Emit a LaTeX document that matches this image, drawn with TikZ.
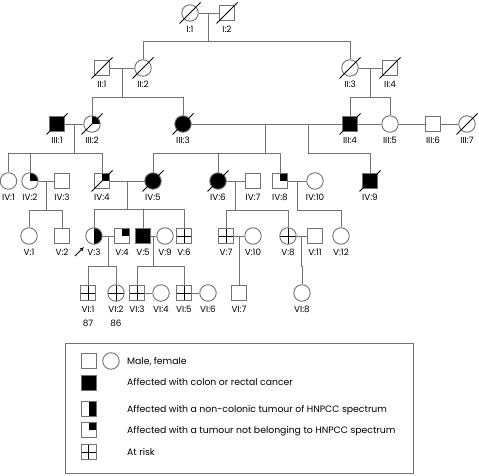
\documentclass[tikz,border=0pt]{standalone}
\usepackage{fontspec}
\setmainfont{Poppins}
\usetikzlibrary{arrows.meta,calc}
\definecolor{ln}{gray}{0.45}
\newcommand\pers[5]{\node[#2] (#1) at (#3,#4) {}; \node[lab] (#1l) at (#3,#4+19.6) {#5};}
\newcommand\kids[3]{\foreach \c in {#3} {\draw[rel] (#1) -- (#1 |- 0,#2) -| (\c.north);}}
\begin{document}
\begin{tikzpicture}[x=1pt,y=-1pt,
 every node/.style={inner sep=0pt},
 ind/.style={draw=ln, line width=0.9pt, inner sep=0pt},
 male/.style={ind, rectangle, minimum size=15pt},
 female/.style={ind, circle, minimum size=16.5pt},
 aff/.style={fill=black},
 halfaff/.style={path picture={\fill[black] (path picture bounding box.north) rectangle (path picture bounding box.south east);}},
 quart/.style={path picture={\fill[black] (path picture bounding box.center) rectangle (path picture bounding box.north east);}},
 risk/.style={path picture={\draw[black,line width=0.9pt] (path picture bounding box.north) -- (path picture bounding box.south) (path picture bounding box.west) -- (path picture bounding box.east);}},
 lab/.style={anchor=base, font=\fontsize{8.8}{9}\selectfont},
 legtext/.style={anchor=base west, font=\fontsize{9.3}{10}\selectfont},
 rel/.style={draw=ln, line width=0.9pt},
 dead/.style={draw=black, line width=0.8pt},
]
\useasboundingbox (0,0) rectangle (479,476);
% generation I
\pers{i1}{female}{190}{13}{I:1}
\pers{i2}{male}{227}{13}{I:2}
% generation II
\pers{ii1}{male}{102}{68}{II:1}
\pers{ii2}{female}{143}{68}{II:2}
\pers{ii3}{female}{350}{68}{II:3}
\pers{ii4}{male}{390}{68}{II:4}
% generation III
\pers{iii1}{male,aff}{57}{124}{III:1}
\pers{iii2}{female,quart}{92}{124}{III:2}
\pers{iii3}{female,aff}{183}{124}{III:3}
\pers{iii4}{male,aff}{350}{124}{III:4}
\pers{iii5}{female}{390}{124}{III:5}
\pers{iii6}{male}{433}{124}{III:6}
\pers{iii7}{female}{467}{124}{III:7}
% generation IV
\pers{iv1}{female}{8.5}{181}{IV:1}
\pers{iv2}{female,quart}{30}{181}{IV:2}
\pers{iv3}{male}{62}{181}{IV:3}
\pers{iv4}{male,quart}{102}{181}{IV:4}
\pers{iv5}{female,aff}{153}{181}{IV:5}
\pers{iv6}{female,aff}{218}{181}{IV:6}
\pers{iv7}{male}{253}{181}{IV:7}
\pers{iv8}{male,quart}{280}{181}{IV:8}
\pers{iv10}{female}{315}{181}{IV:10}
\pers{iv9}{male,aff}{370}{181}{IV:9}
% generation V
\pers{v1}{female}{29}{236}{V:1}
\pers{v2}{male}{62}{236}{V:2}
\pers{v3}{female,halfaff}{94}{236}{V:3}
\pers{v4}{male,quart}{122}{236}{V:4}
\pers{v5}{male,aff}{143}{236}{V:5}
\pers{v9}{female}{165}{236}{V:9}
\pers{v6}{male,risk}{184}{236}{V:6}
\pers{v7}{male,risk}{226}{236}{V:7}
\pers{v10}{female}{253}{236}{V:10}
\pers{v8}{female,risk}{288}{236}{V:8}
\pers{v11}{male}{315}{236}{V:11}
\pers{v12}{female}{341}{236}{V:12}
% generation VI
\pers{vi1}{male,risk}{88}{293}{VI:1}
\pers{vi2}{female,risk}{116}{293}{VI:2}
\pers{vi3}{male,risk}{137}{293}{VI:3}
\pers{vi4}{female}{161}{293}{VI:4}
\pers{vi5}{male,risk}{184}{293}{VI:5}
\pers{vi6}{female}{208}{293}{VI:6}
\pers{vi7}{male}{239}{293}{VI:7}
\pers{vi8}{female}{302}{293}{VI:8}
\node[lab] (age1) at (88,326) {87};
\node[lab] (age2) at (116,326) {86};
% marriage lines
\foreach \a/\b in {i1/i2,ii1/ii2,ii3/ii4,iii1/iii2,iii3/iii4,iii4/iii5,iii5/iii6,iii6/iii7,
  iv2/iv3,iv4/iv5,iv6/iv7,iv8/iv10,v3/v4,v5/v9,v7/v10,v8/v11,vi3/vi4,vi5/vi6}
  \draw[rel] (\a) -- (\b);
% descent points
\coordinate (m1) at ($(i1.east)!0.5!(i2.west)$);
\coordinate (m2) at ($(ii1.east)!0.5!(ii2.west)$);
\coordinate (m3) at ($(ii3.east)!0.5!(ii4.west)$);
\coordinate (m4) at ($(iii1.east)!0.5!(iii2.west)$);
\coordinate (d1) at (265,124);
\coordinate (d2) at (308,124);
\coordinate (m5) at ($(iv2.east)!0.5!(iv3.west)$);
\coordinate (m6) at ($(iv4.east)!0.5!(iv5.west)$);
\coordinate (m7) at ($(iv6.east)!0.5!(iv7.west)$);
\coordinate (m8) at ($(iv8.east)!0.5!(iv10.west)$);
\coordinate (m9) at ($(v3.east)!0.5!(v4.west)$);
\coordinate (m10) at ($(v5.east)!0.5!(v9.west)$);
\coordinate (m11) at ($(v7.east)!0.5!(v10.west)$);
\coordinate (m12) at ($(v8.east)!0.5!(v11.west)$);
\kids{m1}{41}{ii2,ii3}
\kids{m2}{97}{iii2,iii3}
\kids{m3}{97}{iii4,iii5}
\kids{m4}{153}{iv1,iv2,iv4}
\kids{d1}{153}{iv5,iv6,iv8}
\kids{d2}{153}{iv9}
\kids{m5}{210}{v1,v2}
\kids{m6}{209}{v3,v5,v6}
\kids{m7}{210}{v7,v8}
\kids{m8}{210}{v12}
\kids{m9}{266}{vi1,vi2}
\kids{m10}{266}{vi3,vi5}
\kids{m11}{266}{vi7}
\kids{m12}{266}{vi8}
% deceased
\foreach \n in {i1,i2,ii1,ii2,ii3,ii4,iii1,iii2,iii3,iii4,iii7,iv4,iv5,iv6,iv9}
  \draw[dead] ([shift={(-10.5,10.5)}]\n.center) -- ([shift={(10.5,-10.5)}]\n.center);
% proband arrow
\coordinate (pa) at (75,256);
\coordinate (pb) at (84,247);
\draw[black, line width=0.8pt, -{Latex[length=4pt,width=4pt]}] (pa) -- (pb);
% legend
\node[draw=ln, line width=0.9pt, minimum width=348pt, minimum height=130pt] (leg) at (239,408) {};
\node[male] (lm) at (88.5,361) {};
\node[female] (lf) at (111,361) {};
\node[legtext] (tm) at (127,364.3) {Male, female};
\node[male,aff] (la) at (88.5,382.5) {};
\node[legtext] (ta) at (127,385.8) {Affected with colon or rectal cancer};
\node[male,halfaff] (lh) at (88.5,409) {};
\node[legtext] (th) at (127,412.3) {Affected with a non-colonic tumour of HNPCC spectrum};
\node[male,quart] (lq) at (88.5,430) {};
\node[legtext] (tq) at (127,433.3) {Affected with a tumour not belonging to HNPCC spectrum};
\node[male,risk] (lr) at (88.5,452) {};
\node[legtext] (tr) at (127,455.3) {At risk};
\end{tikzpicture}
\end{document}
